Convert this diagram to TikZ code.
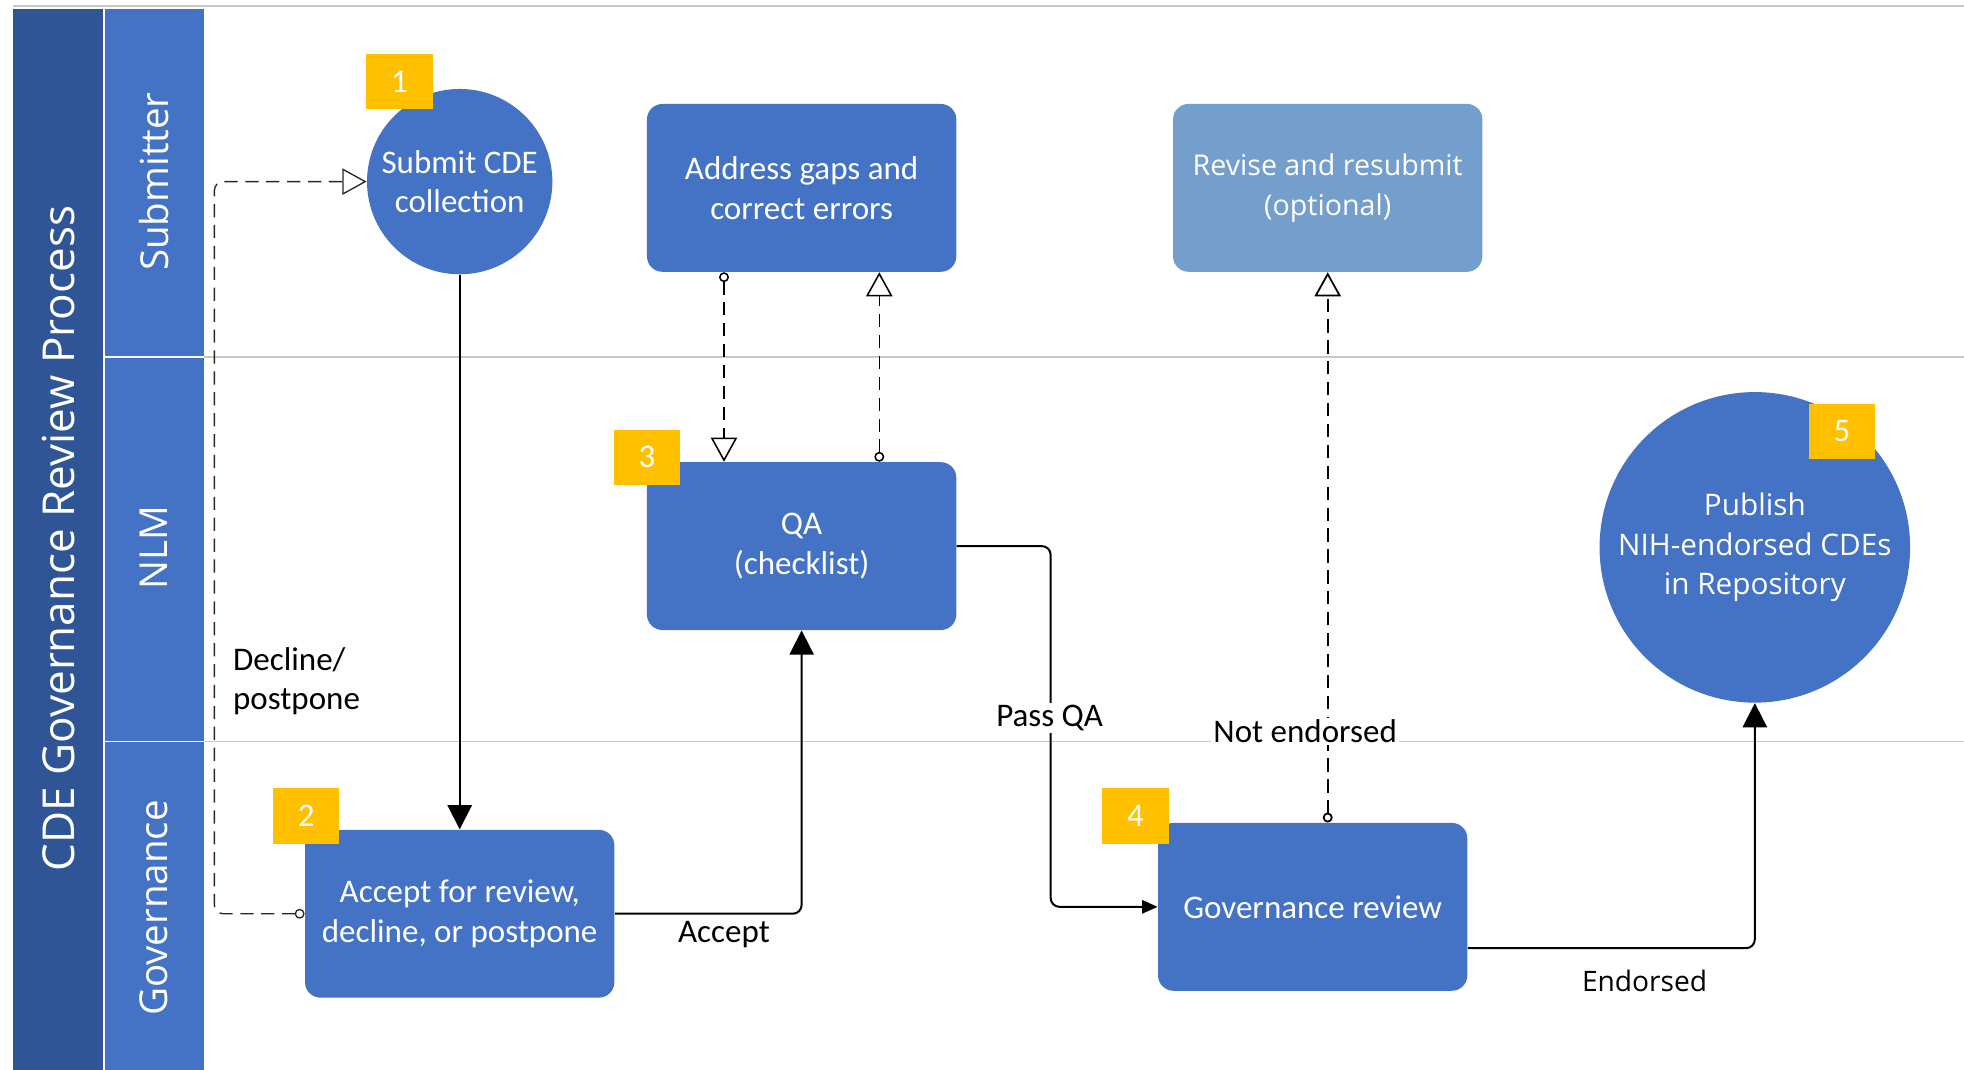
\documentclass[tikz,border=0pt]{standalone}
\usepackage{fontspec}
\setmainfont{Carlito}
\newfontfamily\opensans{Open Sans}
\usetikzlibrary{arrows.meta}
\definecolor{procblue}{RGB}{68,114,196}
\definecolor{titleblue}{RGB}{47,85,151}
\definecolor{paleblue}{RGB}{116,158,204}
\definecolor{badgeyellow}{RGB}{255,192,0}
\definecolor{lanegray}{RGB}{200,200,200}

\begin{document}
\begin{tikzpicture}[x=0.02cm, y=-0.02cm,
    taskbox/.style={rectangle, rounded corners=7pt, fill=procblue, text=white, align=center,
      minimum width=4.94cm, minimum height=2.68cm, inner sep=0pt, font=\fontsize{15}{18}\selectfont},
    eventdisk/.style={circle, fill=procblue, text=white, align=center, inner sep=0pt},
    badge/.style={rectangle, fill=badgeyellow, text=white, minimum width=1.06cm,
      minimum height=0.88cm, inner sep=0pt, font=\fontsize{15}{18}\selectfont},
    lanetext/.style={rotate=90, text=white, font=\opensans\fontsize{17.5}{21}\selectfont},
    flow/.style={draw, line width=0.9pt, rounded corners=4pt, -{Triangle[length=11pt, width=11pt]}},
    feedback/.style={draw, line width=0.8pt, rounded corners=4pt, dash pattern=on 6pt off 3.5pt,
      {Circle[open, length=4.5pt, fill=white]}-{Triangle[open, length=11pt, width=12pt, fill=white]}},
    flowlabel/.style={font=\fontsize{15}{18}\selectfont, align=left, inner sep=1pt}
  ]
  \useasboundingbox (0,0) rectangle (1568,854);

  \fill[titleblue] (10,7) rectangle (83,854);
  \fill[procblue] (83,7) rectangle (163,854);
  \draw[white, line width=0.6pt] (83,7) -- (83,854);
  \draw[white, line width=0.6pt] (83,285) -- (163,285);
  \draw[white, line width=0.6pt] (83,592) -- (163,592);
  \draw[lanegray, line width=0.8pt] (10,5) -- (1568,5);
  \draw[lanegray, line width=0.6pt] (163,285) -- (1568,285);
  \draw[lanegray, line width=0.6pt] (163,592) -- (1568,592);

  \node[rotate=90, text=white, font=\opensans\fontsize{20}{24}\selectfont] (title) at (47,430) {CDE Governance Review Process};
  \node[lanetext] (lsub) at (123,145) {Submitter};
  \node[lanetext] (lnlm) at (123,437) {NLM};
  \node[lanetext] (lgov) at (123,725) {Governance};

  \node[eventdisk, minimum size=2.96cm, font=\fontsize{15}{18}\selectfont] (submit) at (367,145) {Submit CDE\\collection};
  \node[taskbox] (address) at (640,150) {Address gaps and\\correct errors};
  \node[taskbox, fill=paleblue, font=\opensans\fontsize{13}{18}\selectfont] (revise) at (1060,150) {Revise and resubmit\\(optional)};
  \node[taskbox] (qa) at (640,436) {QA\\(checklist)};
  \node[taskbox] (accept) at (367,729.5) {Accept for review,\\decline, or postpone};
  \node[taskbox] (govrev) at (1048,724) {Governance review};
  \node[eventdisk, minimum size=4.96cm, font=\opensans\fontsize{13.5}{18}\selectfont] (publish) at (1401,437) {Publish\\NIH-endorsed CDEs\\in Repository};

  \node[badge] (b1) at (319,65) {1};
  \node[badge] (b2) at (244.5,651.5) {2};
  \node[badge] (b3) at (516.5,365) {3};
  \node[badge] (b4) at (906.5,651.5) {4};
  \node[badge] (b5) at (1470.5,344.5) {5};

  \draw[flow] (submit) -- (accept);
  \draw[flow] (accept.east) -| (qa.south);
  \draw[flow, -{Triangle[length=7pt, width=6pt]}] (qa.east) -- ++(75,0) |- (govrev.west);
  \draw[flow] ([yshift=-0.66cm]govrev.east) -| (publish.south);
  \draw[feedback] (revise.south |- govrev.north) -- (revise.south);
  \draw[feedback, line width=0.7pt] ([xshift=-1.24cm]address.south) -- ([xshift=-1.24cm]qa.north);
  \draw[feedback, line width=0.7pt] ([xshift=1.24cm]qa.north) -- ([xshift=1.24cm]address.south);
  \draw[feedback, draw=black!85, line width=0.6pt] (accept.west) -- ++(-72,0) |- (submit.west);

  \node[flowlabel] (tacc) at (578,746) {Accept};
  \node[flowlabel, fill=white] (tpass) at (838,573) {Pass QA};
  \node[flowlabel, fill=white] (tnot) at (1042,584) {Not endorsed};
  \node[flowlabel, font=\opensans\fontsize{12.8}{18}\selectfont] (tend) at (1313,783) {Endorsed};
  \node[flowlabel, anchor=west] (tdec) at (184,544) {Decline/\\postpone};
\end{tikzpicture}
\end{document}
